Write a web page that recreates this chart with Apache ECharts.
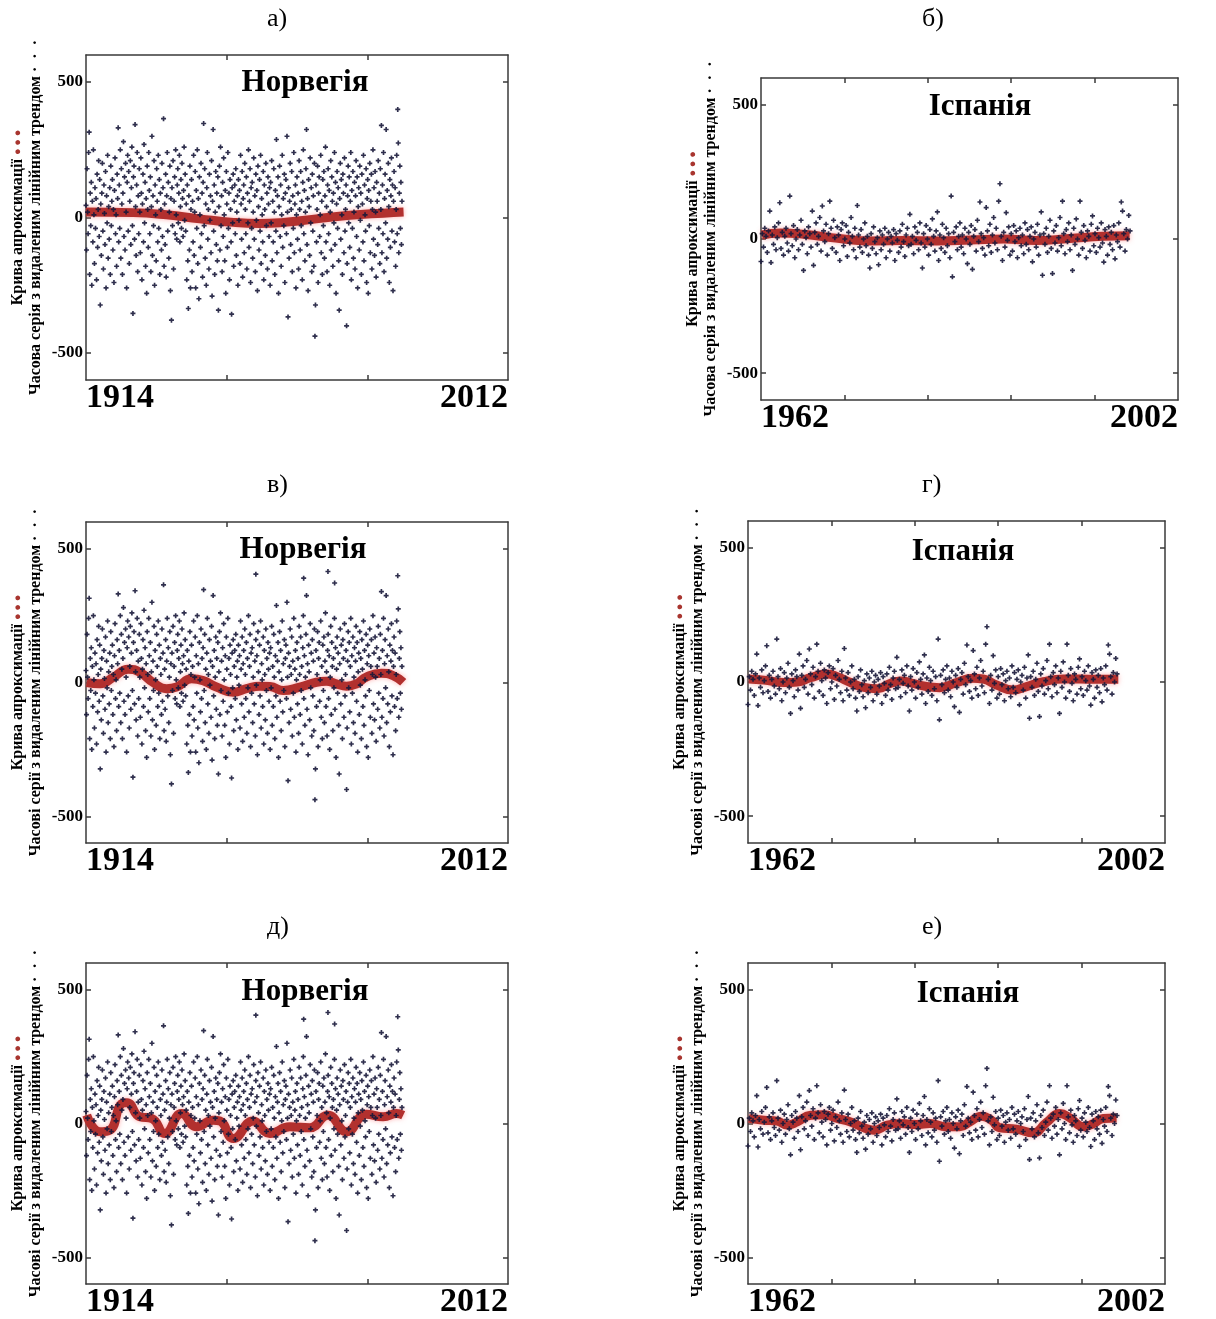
<!DOCTYPE html>
<html><head><meta charset="utf-8">
<script src="https://cdn.jsdelivr.net/npm/echarts@6/dist/echarts.min.js"></script>
<style>html,body{margin:0;padding:0;background:#fff}#c{width:1216px;height:1319px}</style>
</head><body><div id="c"></div>
<script>
// ---------- DATA ----------
const yTickValues = [-500, 0, 500];
const norwayTickValues = [400, 800];
const spainTickValues = [100, 200, 300, 400];
const norwayYearLabels = ['1914', '2012'];
const spainYearLabels = ['1962', '2002'];
const panelLetters = ['а)', 'б)', 'в)', 'г)', 'д)', 'е)'];
const countryNames = ['Норвегія', 'Іспанія'];
const NORWAY_STEP = 1.5;
const SPAIN_STEP = 1.5;

// Norway series with removed linear trend
const norwayValues = [
45,-120,180,20,-60,240,315,-210,90,-30,130,-250,60,-90,250,10,-170,110,-40,70,-230,160,-110,30,210,-70,140,-323,50,-140,90,200,-50,-190,120,15,-100,170,-260,80,-20,230,-150,40,-80,110,-210,190,-30,60,
140,-120,30,-240,100,220,-60,10,-180,160,70,331,-90,120,-40,250,-150,180,50,-210,90,280,-70,150,-120,200,20,-260,130,230,-50,170,-170,60,210,-100,110,260,-30,-354,150,190,-80,343,40,-140,120,240,-200,80,
-60,180,20,-130,220,90,-230,50,160,-90,270,-20,130,-180,70,-280,190,30,-110,240,100,-60,150,-200,40,300,-140,80,-30,210,-250,120,10,-160,180,60,-90,230,-40,140,-210,90,30,-120,200,-70,110,365,-180,50,
-100,160,-220,80,240,-50,130,-150,20,190,-270,70,-379,110,-30,210,-190,60,150,-60,250,10,-80,120,180,-20,90,230,-90,40,140,-40,200,70,-70,100,260,-10,160,-50,50,-230,120,-160,-336,80,-120,190,-260,30,
140,-200,60,-90,230,-140,20,170,-260,100,-40,250,-170,70,-300,150,10,-110,200,-60,90,-220,130,347,-30,180,-150,50,-250,110,240,-80,30,-190,160,-10,80,-130,210,-290,60,325,-50,120,-210,20,170,-100,90,-160,
150,-342,40,190,-120,260,-30,80,-200,130,-70,220,10,-160,100,-280,170,50,-110,240,-40,90,-230,140,30,-90,-357,110,-20,160,-180,60,120,-60,180,-140,20,80,-250,140,-10,100,-170,230,50,-80,170,-220,70,120,
-130,200,30,-60,150,-190,90,-20,250,-110,60,180,-240,110,-40,130,-150,20,220,-80,80,-200,160,-10,100,-270,190,40,-120,140,-50,230,-170,70,10,-90,170,-230,120,30,-140,200,-30,90,-190,150,50,-70,110,-250,
130,-20,210,-160,60,-90,180,20,-210,100,-50,288,-130,80,150,-280,40,190,-70,120,-180,10,230,-110,70,-30,160,-240,90,140,-60,300,20,-367,110,-150,60,200,-100,30,170,-200,80,-40,240,-130,50,120,-260,10,
150,-80,90,-190,210,30,-120,170,-30,60,-230,130,250,-60,100,-160,20,180,325,-100,70,-270,140,40,-140,220,-20,110,-200,160,-50,80,-180,200,-438,-323,120,-90,30,190,-240,90,150,-70,10,230,-130,60,-210,140,
-30,170,-150,80,260,-90,40,-200,120,180,-60,100,-250,20,210,-120,150,60,-180,90,-20,240,-100,130,-280,50,170,-40,110,-160,-342,70,200,-80,140,10,-210,160,90,-130,220,-50,30,120,-400,-170,80,190,-20,150,
-110,60,240,-230,100,-40,170,-150,20,130,-190,80,210,-70,150,-260,40,110,-120,190,-10,90,-210,160,50,-90,230,-160,120,10,-50,180,-240,70,140,-280,100,-30,200,-130,60,160,-190,30,250,-80,110,-140,170,20,
-220,130,60,-100,210,-40,90,-170,180,30,340,-130,120,-60,240,-200,70,160,-20,325,-150,100,-80,200,40,-240,140,-110,80,220,-50,120,-270,60,170,-90,110,-180,30,230,-60,399,275,-130,90,190,-40,130,-100,60
];
// a few extra Norway points visible only in panels в) and д): [x, value]
const norwayExtra = [[483, 405], [619, 390], [688, 415], [707, 372]];

// Spain series with removed linear trend
const spainValues = [
-84,20,-30,40,10,-50,30,104,-88,15,-20,45,-40,5,60,135,-35,25,-60,10,40,-15,-45,160,20,-25,50,-70,0,35,-40,15,70,-20,-117,30,5,-55,45,20,
-30,104,-98,25,60,-20,10,80,-45,123,30,-10,55,-60,20,141,40,-35,70,5,-50,45,15,-80,35,60,-25,0,50,-65,25,-15,80,10,-40,40,-70,125,15,-30,
35,-50,0,60,-25,10,-60,-108,20,-35,45,-10,-55,5,-96,30,-40,15,-20,40,-70,0,25,-45,10,-15,35,-80,20,-5,-50,30,-30,55,-10,-65,15,40,-25,92,
-20,10,-55,45,-5,25,-40,60,-15,-108,20,-30,50,0,-60,35,-20,75,10,-45,30,101,-80,15,-35,55,5,-50,40,-25,20,-70,160,-141,25,-10,45,-40,10,60,
-30,15,-55,40,0,-92,25,-20,50,-113,10,35,-45,70,-10,138,20,-35,5,-60,117,30,-25,55,-50,15,80,-15,40,-40,141,206,10,-80,25,-30,98,-5,45,-60,
20,-45,50,-10,30,-70,5,40,-25,15,-55,60,-20,35,-40,10,45,-85,0,25,-30,55,-60,15,101,-135,20,-20,40,-50,10,70,-35,-129,30,-15,50,-45,5,80,
-25,141,20,-55,35,-10,60,-40,15,-117,40,-20,75,0,-60,141,25,-35,50,-5,-70,30,10,-45,55,86,-25,20,-50,40,5,-30,60,-15,-86,35,10,-60,45,-20,
25,-40,50,-74,15,-10,60,-30,138,104,20,-45,35,0,88,30
];

// approximation curves: [x, value]
const curveNorwayA = [[0,20],[134,18],[229,10],[324,-5],[419,-18],[494,-22],[561,-18],[655,-5],[750,8],[845,16],[903,20]];
const curveNorwayV = [[2,0],[40,-5],[78,20],[120,50],[153,38],[191,0],[229,-23],[258,-17],[300,14],[333,7],[371,-17],[419,-36],[456,-23],[494,-14],[523,-15],[561,-30],[608,-17],[655,1],[684,5],[712,-5],[741,-14],[769,-5],[797,20],[840,35],[873,26],[902,1]];
const curveNorwayD = [[2,31],[40,-31],[68,-25],[101,74],[116,78],[153,25],[187,19],[224,-37],[272,37],[314,-12],[362,12],[381,9],[419,-56],[475,9],[523,-37],[580,-12],[636,-16],[688,31],[741,-31],[797,35],[845,25],[883,37],[902,31]];
const curveSpainB = [[1,15],[23,22],[51,18],[71,10],[99,0],[131,-7],[171,-6],[211,-7],[251,-4],[291,0],[330,-6],[370,2],[410,10],[442,12]];
const curveSpainG = [[1,11],[19,7],[43,-2],[59,0],[75,16],[95,30],[107,20],[123,-2],[139,-20],[155,-25],[171,-5],[183,4],[194,-2],[214,-17],[230,-21],[250,-2],[270,14],[282,11],[298,-11],[318,-30],[334,-17],[354,1],[378,11],[398,11],[418,10],[444,10]];
const curveSpainE = [[1,19],[19,12],[35,9],[47,-6],[59,6],[75,31],[91,33],[107,19],[123,6],[139,-16],[151,-25],[167,-6],[183,0],[202,-4],[218,0],[238,-12],[254,-12],[266,6],[280,27],[292,12],[302,-16],[322,-21],[342,-35],[358,4],[374,37],[386,21],[402,-12],[414,-1],[426,19],[442,21]];

// ---------- LAYOUT ----------
const FONT = '"Liberation Serif","DejaVu Serif",serif';
const panels = [
  {kind:'N', grid:{left:86, top:55, width:422, height:325}, curve:curveNorwayA, extra:false, serLabel:'Часова серія', titleX:300, titleY:62, letterX:281, letterY:6},
  {kind:'S', grid:{left:761, top:78, width:417, height:322}, curve:curveSpainB, extra:false, serLabel:'Часова серія', titleX:975, titleY:86, letterX:936, letterY:6},
  {kind:'N', grid:{left:86, top:522, width:422, height:321}, curve:curveNorwayV, extra:true, serLabel:'Часові серії', titleX:298, titleY:529, letterX:281, letterY:472},
  {kind:'S', grid:{left:748, top:521, width:417, height:322}, curve:curveSpainG, extra:false, serLabel:'Часові серії', titleX:958, titleY:531, letterX:936, letterY:472},
  {kind:'N', grid:{left:86, top:963, width:422, height:322}, curve:curveNorwayD, extra:true, serLabel:'Часові серії', titleX:300, titleY:971, letterX:281, letterY:914},
  {kind:'S', grid:{left:748, top:963, width:417, height:322}, curve:curveSpainE, extra:false, serLabel:'Часові серії', titleX:963, titleY:973, letterX:936, letterY:914}
];

const axisLineStyle = {color:'#3a3a3a', width:1.5};
const plusSymbol = 'path://M2,0H4V2H6V4H4V6H2V4H0V2H2Z';

const grids = [], xAxes = [], yAxes = [], series = [], titles = [], graphics = [];
panels.forEach((p, i) => {
  const isN = p.kind === 'N';
  const xMax = isN ? 1200 : 500;
  const xTicks = isN ? norwayTickValues : spainTickValues;
  const yearLabels = isN ? norwayYearLabels : spainYearLabels;
  const values = isN ? norwayValues : spainValues;
  const step = isN ? NORWAY_STEP : SPAIN_STEP;
  grids.push(p.grid);
  xAxes.push({
    gridIndex:i, type:'value', min:0, max:xMax, position:'bottom',
    axisLine:{onZero:false, lineStyle:axisLineStyle},
    axisTick:{inside:true, length:5, customValues:xTicks, lineStyle:axisLineStyle},
    axisLabel:{customValues:[0, xMax], formatter:v => (v === 0 ? yearLabels[0] : yearLabels[1]),
      alignMinLabel:'left', alignMaxLabel:'right', fontSize:34, fontWeight:'bold', fontFamily:FONT, color:'#000', margin:1},
    splitLine:{show:false}
  });
  xAxes.push({
    gridIndex:i, type:'value', min:0, max:xMax, position:'top',
    axisLine:{onZero:false, lineStyle:axisLineStyle},
    axisTick:{inside:true, length:5, customValues:xTicks, lineStyle:axisLineStyle},
    axisLabel:{show:false}, splitLine:{show:false}
  });
  yAxes.push({
    gridIndex:i, type:'value', min:-600, max:600, position:'left',
    axisLine:{onZero:false, lineStyle:axisLineStyle},
    axisTick:{inside:true, length:5, customValues:yTickValues, lineStyle:axisLineStyle},
    axisLabel:{customValues:yTickValues, fontSize:17, fontWeight:'bold', fontFamily:FONT, color:'#000', margin:3},
    splitLine:{show:false},
    name:'{k|Крива апроксимації} {r|● ● ●}\n{c|' + p.serLabel + ' з видаленим лінійним трендом} {d|·  ·  ·}',
    nameLocation:'middle', nameRotate:90, nameGap:41,
    nameTextStyle:{fontFamily:FONT, fontWeight:'bold', fontSize:16, color:'#000', lineHeight:18,
      rich:{k:{fontFamily:FONT, fontWeight:'bold', fontSize:16, color:'#000'},
            r:{fontSize:11, color:'#a8352f'},
            c:{fontFamily:FONT, fontWeight:'bold', fontSize:16, color:'#000'},
            d:{fontFamily:FONT, fontWeight:'bold', fontSize:16, color:'#000'}}}
  });
  yAxes.push({
    gridIndex:i, type:'value', min:-600, max:600, position:'right',
    axisLine:{onZero:false, lineStyle:axisLineStyle},
    axisTick:{inside:true, length:5, customValues:yTickValues, lineStyle:axisLineStyle},
    axisLabel:{show:false}, splitLine:{show:false}
  });
  series.push({
    type:'line', xAxisIndex:2*i, yAxisIndex:2*i, data:p.curve, smooth:true, showSymbol:false,
    lineStyle:{color:'#b2302e', width:9, shadowBlur:5, shadowColor:'rgba(255,110,110,0.55)'},
    z:2, silent:true
  });
  series.push({
    type:'scatter', xAxisIndex:2*i, yAxisIndex:2*i,
    data:values.map((v, k) => [k * step, v]),
    symbol:plusSymbol, symbolSize:5, itemStyle:{color:'#18183a', opacity:0.9}, z:3, silent:true
  });
  if (p.extra) {
    series.push({
      type:'scatter', xAxisIndex:2*i, yAxisIndex:2*i, data:norwayExtra,
      symbol:plusSymbol, symbolSize:5, itemStyle:{color:'#18183a', opacity:0.9}, z:3, silent:true
    });
  }
  titles.push({
    text: isN ? countryNames[0] : countryNames[1], left:p.titleX, top:p.titleY, textAlign:'center',
    textStyle:{fontFamily:FONT, fontWeight:'bold', fontSize:31, color:'#000'}
  });
  graphics.push({
    type:'text', left:p.letterX - 14, top:p.letterY,
    style:{text:panelLetters[i], font:'26px ' + FONT, fill:'#000'}
  });
});

const chart = echarts.init(document.getElementById('c'), null, {renderer:'canvas'});
chart.setOption({
  backgroundColor:'#fff', animation:false,
  title:titles, grid:grids, xAxis:xAxes, yAxis:yAxes, series:series, graphic:graphics
});
</script>
</body></html>
